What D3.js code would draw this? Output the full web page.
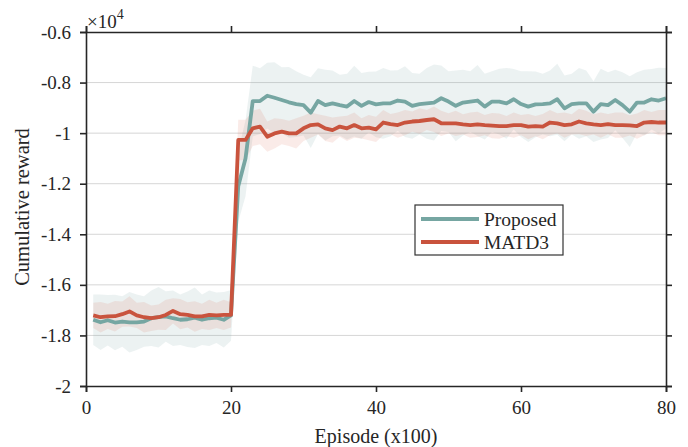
<!DOCTYPE html>
<html>
<head>
<meta charset="utf-8">
<script src="https://cdn.jsdelivr.net/npm/d3@7"></script>
<style>
  html, body { margin: 0; padding: 0; background: #fff; }
  svg { display: block; }
  text { font-family: "Liberation Serif", "Times New Roman", serif; fill: #262626; }
</style>
</head>
<body>
<svg id="chart" width="688" height="447"></svg>
<script>
// Episodes (in hundreds)
const episodes = d3.range(1, 81);

// Mean cumulative reward (x10^4) per episode
const proposedMean = [
  -1.738, -1.748, -1.740, -1.749, -1.745, -1.748, -1.748, -1.745, -1.732, -1.728,
  -1.725, -1.732, -1.738, -1.736, -1.730, -1.738, -1.732, -1.730, -1.738, -1.721,
  -1.210, -1.100, -0.873, -0.873, -0.852, -0.860, -0.869, -0.878, -0.885, -0.889,
  -0.919, -0.873, -0.889, -0.882, -0.889, -0.895, -0.873, -0.892, -0.877, -0.886,
  -0.882, -0.882, -0.871, -0.875, -0.892, -0.885, -0.882, -0.879, -0.862, -0.875,
  -0.892, -0.879, -0.875, -0.871, -0.895, -0.875, -0.875, -0.882, -0.866, -0.885,
  -0.895, -0.886, -0.885, -0.882, -0.866, -0.902, -0.885, -0.882, -0.882, -0.915,
  -0.885, -0.889, -0.869, -0.889, -0.915, -0.879, -0.879, -0.866, -0.871, -0.862
];
const matd3Mean = [
  -1.721, -1.728, -1.725, -1.724, -1.716, -1.705, -1.721, -1.728, -1.732, -1.728,
  -1.719, -1.703, -1.716, -1.719, -1.725, -1.725, -1.719, -1.721, -1.719, -1.719,
  -1.027, -1.027, -0.981, -0.974, -1.014, -1.001, -0.994, -1.001, -1.001, -0.981,
  -0.968, -0.965, -0.981, -0.988, -0.974, -0.981, -0.968, -0.981, -0.978, -0.985,
  -0.958, -0.964, -0.968, -0.958, -0.954, -0.952, -0.948, -0.945, -0.961, -0.961,
  -0.961, -0.965, -0.968, -0.965, -0.968, -0.970, -0.972, -0.972, -0.968, -0.968,
  -0.974, -0.972, -0.974, -0.958, -0.961, -0.968, -0.965, -0.954, -0.961, -0.965,
  -0.968, -0.964, -0.968, -0.968, -0.969, -0.972, -0.958, -0.956, -0.958, -0.958
];

// Half-width of the shaded spread around each mean
const proposedSpread = [
  0.10, 0.11, 0.10, 0.11, 0.10, 0.12, 0.11, 0.10, 0.11, 0.12,
  0.10, 0.11, 0.10, 0.11, 0.12, 0.10, 0.11, 0.10, 0.11, 0.10,
  0.14, 0.15, 0.14, 0.13, 0.13, 0.14, 0.13, 0.14, 0.13, 0.12,
  0.14, 0.13, 0.14, 0.13, 0.12, 0.13, 0.14, 0.13, 0.12, 0.13,
  0.14, 0.13, 0.12, 0.14, 0.13, 0.12, 0.14, 0.15, 0.13, 0.12,
  0.14, 0.13, 0.12, 0.14, 0.13, 0.12, 0.13, 0.14, 0.12, 0.13,
  0.14, 0.13, 0.12, 0.13, 0.14, 0.13, 0.12, 0.14, 0.13, 0.12,
  0.14, 0.13, 0.12, 0.13, 0.14, 0.12, 0.13, 0.12, 0.13, 0.12
];
const matd3Spread = [
  0.05, 0.06, 0.05, 0.06, 0.05, 0.06, 0.05, 0.06, 0.05, 0.05,
  0.06, 0.05, 0.06, 0.05, 0.06, 0.05, 0.06, 0.05, 0.06, 0.05,
  0.08, 0.08, 0.07, 0.07, 0.06, 0.06, 0.05, 0.05, 0.06, 0.05,
  0.05, 0.04, 0.05, 0.05, 0.04, 0.05, 0.05, 0.04, 0.05, 0.05,
  0.05, 0.04, 0.05, 0.05, 0.04, 0.05, 0.04, 0.05, 0.05, 0.04,
  0.05, 0.04, 0.05, 0.05, 0.04, 0.05, 0.05, 0.04, 0.05, 0.04,
  0.05, 0.04, 0.05, 0.05, 0.04, 0.05, 0.04, 0.05, 0.05, 0.04,
  0.05, 0.04, 0.05, 0.05, 0.04, 0.05, 0.05, 0.04, 0.05, 0.05
];

const xTicks = [0, 20, 40, 60, 80];
const yTicks = [-2, -1.8, -1.6, -1.4, -1.2, -1, -0.8, -0.6];
const seriesNames = ["Proposed", "MATD3"];
const seriesColors = ["#76a6a2", "#c9533d"];
const bandColors = ["rgba(122,166,163,0.14)", "rgba(214,100,80,0.13)"];

const svg = d3.select("#chart");
const plotLeft = 86, plotRight = 666, plotTop = 32, plotBottom = 386;

const x = d3.scaleLinear().domain([0, 80]).range([plotLeft, plotRight]);
const y = d3.scaleLinear().domain([-2, -0.6]).range([plotBottom, plotTop]);

// horizontal grid
svg.append("g")
  .selectAll("line")
  .data(yTicks.filter(v => v > -2 && v < -0.6))
  .join("line")
  .attr("x1", plotLeft).attr("x2", plotRight)
  .attr("y1", d => y(d)).attr("y2", d => y(d))
  .attr("stroke", "#d6d6d6").attr("stroke-width", 1);

const series = [
  { mean: proposedMean, spread: proposedSpread },
  { mean: matd3Mean, spread: matd3Spread }
];

const area = d3.area()
  .x(d => x(d.ep))
  .y0(d => y(d.m - d.s))
  .y1(d => y(d.m + d.s));
const line = d3.line().x(d => x(d.ep)).y(d => y(d.m));

series.forEach((s, k) => {
  const pts = episodes.map((ep, i) => ({ ep, m: s.mean[i], s: s.spread[i] }));
  svg.append("path").datum(pts).attr("d", area).attr("fill", bandColors[k]);
});
series.forEach((s, k) => {
  const pts = episodes.map((ep, i) => ({ ep, m: s.mean[i] }));
  svg.append("path").datum(pts).attr("d", line)
    .attr("fill", "none").attr("stroke", seriesColors[k])
    .attr("stroke-width", 3.8).attr("stroke-linejoin", "round");
});

// axes on all four sides, ticks pointing outward
const axisColor = "#262626";
const fmt = d => String(d);
const gB = svg.append("g").attr("transform", `translate(0,${plotBottom})`)
  .call(d3.axisBottom(x).tickValues(xTicks).tickSize(6).tickPadding(9).tickFormat(fmt));
const gT = svg.append("g").attr("transform", `translate(0,${plotTop})`)
  .call(d3.axisTop(x).tickValues(xTicks).tickSize(6).tickFormat(""));
const gL = svg.append("g").attr("transform", `translate(${plotLeft},0)`)
  .call(d3.axisLeft(y).tickValues(yTicks).tickSize(6).tickPadding(9).tickFormat(fmt));
const gR = svg.append("g").attr("transform", `translate(${plotRight},0)`)
  .call(d3.axisRight(y).tickValues(yTicks).tickSize(6).tickFormat(""));
[gB, gT, gL, gR].forEach(g => {
  g.select(".domain").attr("stroke", axisColor).attr("stroke-width", 1.6);
  g.selectAll(".tick line").attr("stroke", axisColor).attr("stroke-width", 1.6);
  g.selectAll("text").attr("fill", "#262626")
    .style("font-family", '"Liberation Serif", serif').style("font-size", "19px");
});

// exponent marker
const ex = svg.append("text").attr("x", plotLeft + 1).attr("y", 28).style("font-size", "19px");
ex.append("tspan").text("\u00d710");
ex.append("tspan").attr("dy", -9).style("font-size", "14px").text("4");

// axis titles
svg.append("text").attr("x", 376).attr("y", 443).attr("text-anchor", "middle")
  .style("font-size", "20px").text("Episode (x100)");
svg.append("text").attr("transform", `translate(29,${(plotTop + plotBottom) / 2 - 2}) rotate(-90)`)
  .attr("text-anchor", "middle").style("font-size", "20.5px").text("Cumulative reward");

// legend
const lg = svg.append("g");
lg.append("rect").attr("x", 415).attr("y", 205).attr("width", 148).attr("height", 50)
  .attr("fill", "#fff").attr("stroke", "#333").attr("stroke-width", 1.2);
seriesNames.forEach((name, k) => {
  const ly = 219 + k * 23;
  lg.append("line").attr("x1", 421).attr("x2", 479).attr("y1", ly).attr("y2", ly)
    .attr("stroke", seriesColors[k]).attr("stroke-width", 3.8);
  lg.append("text").attr("x", 484).attr("y", ly + 7).style("font-size", "19.5px").text(name);
});
</script>
</body>
</html>
